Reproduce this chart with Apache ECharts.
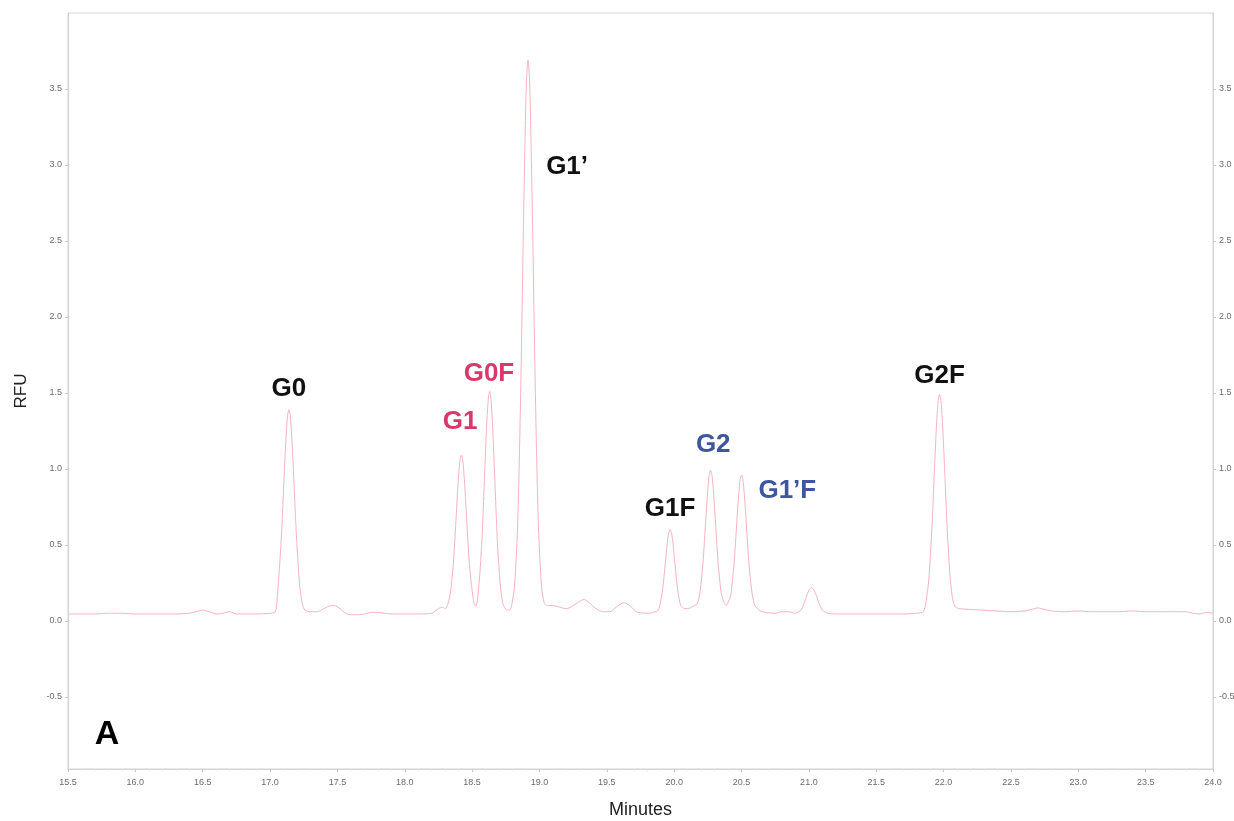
<!DOCTYPE html>
<html>
<head>
<meta charset="utf-8">
<script src="https://cdn.jsdelivr.net/npm/echarts@6/dist/echarts.min.js"></script>
<style>
html,body{margin:0;padding:0;background:#fff;}
#chart{width:1234px;height:821px;}
</style>
</head>
<body>
<div id="chart"></div>
<script>
// ---- data ----
const minutes = [
15.50,15.60,15.70,15.80,15.90,16.00,16.10,16.20,16.30,16.40,16.45,16.50,16.55,16.60,16.65,16.70,16.75,16.80,16.90,17.00,17.04,
17.06,17.08,17.09,17.10,17.11,17.12,17.13,17.14,17.15,17.16,17.17,17.18,17.19,17.20,17.22,17.24,17.26,17.30,17.35,17.40,17.45,17.48,17.52,17.56,17.60,17.65,17.70,17.75,17.80,17.85,17.90,18.00,18.10,18.20,18.25,18.28,18.30,
18.32,18.34,18.36,18.37,18.38,18.39,18.40,18.41,18.42,18.43,18.44,18.45,18.46,18.47,18.48,18.50,18.52,18.53,
18.55,18.57,18.58,18.59,18.60,18.61,18.62,18.63,18.64,18.65,18.66,18.67,18.68,18.69,18.71,18.73,18.76,18.78,
18.795,18.815,18.835,18.845,18.855,18.865,18.875,18.885,18.895,18.905,18.915,18.925,18.935,18.945,18.955,18.965,18.975,18.985,18.995,19.015,19.035,
19.06,19.10,19.15,19.20,19.25,19.30,19.33,19.37,19.42,19.47,19.52,19.57,19.60,19.63,19.67,19.72,19.78,19.82,19.86,
19.87,19.89,19.91,19.92,19.93,19.94,19.95,19.96,19.97,19.98,19.99,20.00,20.01,20.02,20.03,20.05,20.08,20.12,20.15,
20.17,20.19,20.21,20.22,20.23,20.24,20.25,20.26,20.27,20.28,20.29,20.30,20.31,20.32,20.33,20.35,20.37,20.385,20.40,
20.42,20.44,20.45,20.46,20.47,20.48,20.49,20.50,20.51,20.52,20.53,20.54,20.55,20.56,20.58,20.60,20.63,20.68,20.75,20.80,20.85,20.90,
20.94,20.96,20.98,21.00,21.02,21.04,21.06,21.08,21.10,21.14,21.20,21.30,21.40,21.50,21.60,21.70,21.80,21.85,
21.87,21.89,21.91,21.92,21.93,21.94,21.95,21.96,21.97,21.98,21.99,22.00,22.01,22.02,22.03,22.05,22.07,22.09,22.12,
22.20,22.30,22.40,22.50,22.60,22.65,22.70,22.75,22.80,22.90,23.00,23.10,23.20,23.30,23.40,23.50,23.60,23.70,23.80,23.85,23.90,23.95,24.00
];
const rfu = [
0.045,0.045,0.045,0.05,0.05,0.045,0.045,0.045,0.045,0.05,0.06,0.07,0.06,0.045,0.05,0.06,0.045,0.045,0.045,0.05,0.06,
0.23,0.49,0.66,0.86,1.06,1.23,1.35,1.39,1.35,1.23,1.06,0.86,0.66,0.49,0.23,0.11,0.07,0.06,0.06,0.08,0.10,0.10,0.08,0.05,0.04,0.04,0.045,0.055,0.055,0.05,0.045,0.045,0.045,0.05,0.08,0.09,0.08,
0.11,0.19,0.37,0.51,0.66,0.82,0.96,1.06,1.09,1.06,0.96,0.82,0.66,0.51,0.37,0.20,0.10,0.10,
0.23,0.48,0.67,0.90,1.12,1.32,1.46,1.51,1.46,1.32,1.12,0.90,0.67,0.48,0.23,0.11,0.07,0.07,
0.11,0.23,0.56,0.85,1.25,1.73,2.27,2.80,3.26,3.58,3.69,3.58,3.26,2.80,2.27,1.73,1.25,0.85,0.56,0.23,0.12,
0.10,0.10,0.09,0.08,0.10,0.13,0.14,0.12,0.08,0.06,0.06,0.09,0.11,0.12,0.10,0.06,0.05,0.05,0.06,
0.06,0.09,0.18,0.25,0.34,0.43,0.52,0.58,0.60,0.58,0.52,0.43,0.34,0.25,0.18,0.10,0.08,0.085,0.10,
0.11,0.18,0.34,0.46,0.60,0.74,0.87,0.96,0.99,0.96,0.87,0.74,0.60,0.46,0.34,0.18,0.12,0.10,0.12,
0.17,0.33,0.44,0.58,0.72,0.84,0.93,0.96,0.93,0.84,0.72,0.58,0.44,0.33,0.17,0.10,0.07,0.055,0.05,0.06,0.06,0.05,
0.07,0.105,0.155,0.20,0.22,0.20,0.155,0.105,0.07,0.05,0.045,0.045,0.045,0.045,0.045,0.045,0.05,0.06,
0.13,0.27,0.55,0.74,0.95,1.15,1.33,1.45,1.49,1.45,1.33,1.15,0.95,0.74,0.55,0.27,0.13,0.09,0.08,
0.075,0.07,0.065,0.06,0.065,0.075,0.085,0.075,0.065,0.06,0.065,0.06,0.06,0.06,0.065,0.06,0.06,0.06,0.06,0.05,0.045,0.055,0.05
];
const yTickValues = [-0.5,0.0,0.5,1.0,1.5,2.0,2.5,3.0,3.5];
const peakLabelText   = ['G0','G1','G0F','G1\u2019','G1F','G2','G1\u2019F','G2F','A'];
const peakLabelMinute = [17.14,18.41,18.625,19.205,19.97,20.29,20.84,21.97,15.79];
const peakLabelRFU    = [1.53,1.31,1.625,2.99,0.74,1.16,0.855,1.61,-0.75];

// ---- styles ----
const labelColor = {
  'G0':'#111111','G1\u2019':'#111111','G1F':'#111111','G2F':'#111111','A':'#000000',
  'G1':'#d9386b','G0F':'#d9386b',
  'G2':'#3e55a0','G1\u2019F':'#3e55a0'
};
const labelSize = {'A':34};
const FONT = 'Liberation Sans, Arial, sans-serif';

const lineData = minutes.map((m,i)=>[m,rfu[i]]);
const labelData = peakLabelText.map((t,i)=>({
  name:t,
  value:[peakLabelMinute[i], peakLabelRFU[i]],
  label:{color:labelColor[t], fontSize:labelSize[t]||26, opacity:1}
}));

const axisLineColor = '#d4d4d4';
const tickLabel = {fontSize:9, color:'#6a6a6a', fontFamily:FONT};

const chart = echarts.init(document.getElementById('chart'), null, {renderer:'canvas'});
chart.setOption({
  animation:false,
  backgroundColor:'#ffffff',
  grid:{left:68, right:21, top:13, bottom:52, show:true, borderColor:axisLineColor, borderWidth:1,
        containLabel:false, outerBoundsMode:'none'},
  xAxis:{
    type:'value', min:15.5, max:24.0, interval:0.5,
    name:'Minutes', nameLocation:'middle', nameGap:32,
    nameTextStyle:{fontSize:18, color:'#222', fontFamily:FONT},
    axisLine:{show:true, onZero:false, lineStyle:{color:axisLineColor}},
    axisTick:{show:true, length:3, lineStyle:{color:'#c8c8c8'}},
    minorTick:{show:true, splitNumber:5, length:2, lineStyle:{color:'#e4e4e4'}},
    axisLabel:Object.assign({margin:9, formatter:v=>v.toFixed(1), showMinLabel:true, showMaxLabel:true}, tickLabel),
    splitLine:{show:false}
  },
  yAxis:[{
    type:'value', min:-0.975, max:4.0, position:'left',
    name:'RFU', nameLocation:'middle', nameGap:38, nameRotate:90,
    nameTextStyle:{fontSize:17, color:'#222', fontFamily:FONT},
    axisLine:{show:true, onZero:false, lineStyle:{color:axisLineColor}},
    axisTick:{show:true, length:3, lineStyle:{color:'#c8c8c8'}, customValues:yTickValues},
    axisLabel:Object.assign({margin:6, formatter:v=>v.toFixed(1), customValues:yTickValues}, tickLabel),
    splitLine:{show:false}
  },{
    type:'value', min:-0.975, max:4.0, position:'right',
    axisLine:{show:true, onZero:false, lineStyle:{color:axisLineColor}},
    axisTick:{show:true, length:3, lineStyle:{color:'#c8c8c8'}, customValues:yTickValues},
    axisLabel:Object.assign({margin:6, formatter:v=>v.toFixed(1), customValues:yTickValues}, tickLabel),
    splitLine:{show:false}
  }],
  series:[{
    type:'line', data:lineData, showSymbol:false, smooth:0.25,
    lineStyle:{width:1, color:'#f4b3c2'}, z:2
  },{
    type:'scatter', data:labelData, symbolSize:1,
    itemStyle:{color:'rgba(255,255,255,0)', opacity:1},
    label:{show:true, position:'inside', formatter:p=>p.name, fontWeight:'bold', fontFamily:FONT},
    z:5, silent:true
  }]
});
</script>
</body>
</html>
